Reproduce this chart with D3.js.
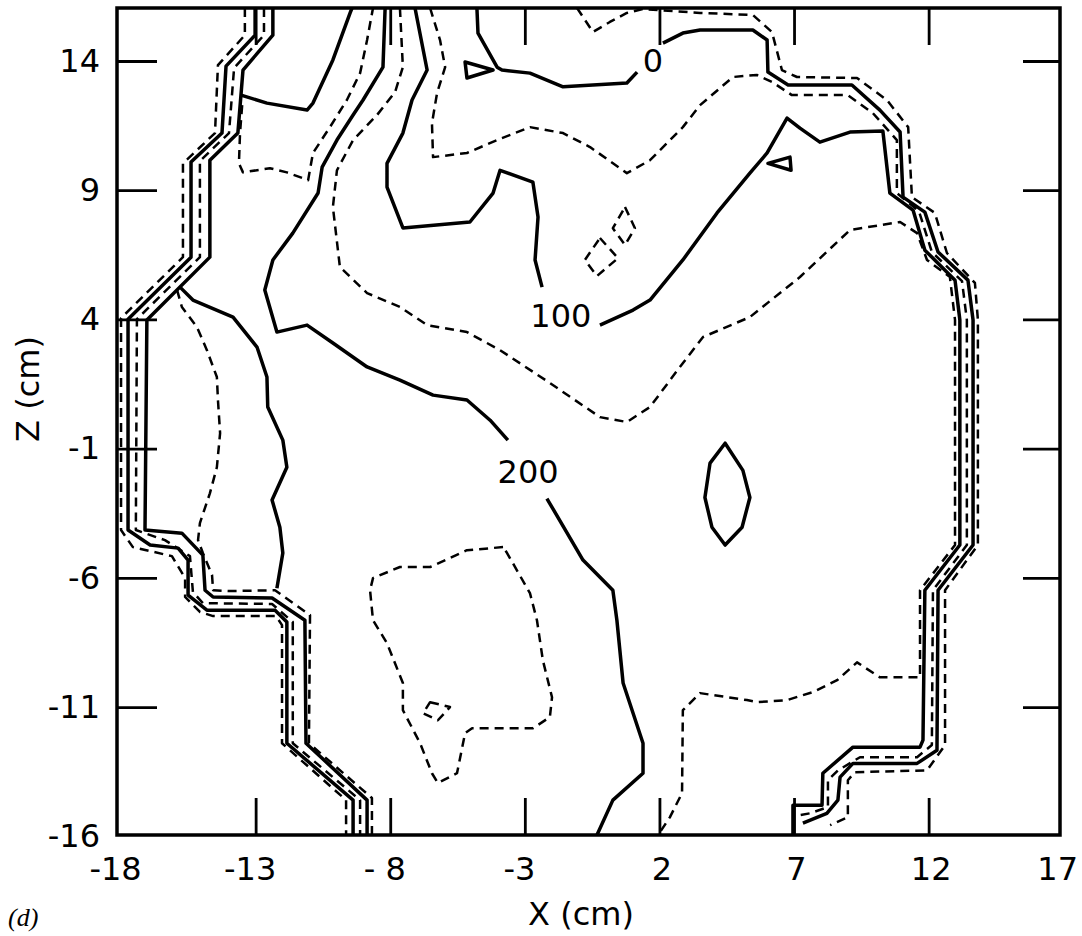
<html>
<head>
<script src="https://d3js.org/d3.v7.min.js"></script>
<style>
  body { margin: 0; background: #fff; }
  text { font-family: "DejaVu Sans", sans-serif; fill: #000; }
</style>
</head>
<body>
<div id="chart"></div>
<script>
//////////////////////////////// AXIS DATA ////////////////////////////////
const xTicks = [-18, -13, -8, -3, 2, 7, 12, 17];
const xTickLabels = ["-18", "-13", "- 8", "-3", "2", "7", "12", "17"];
const zTicks = [14, 9, 4, -1, -6, -11, -16];
const zTickLabels = ["14", "9", "4", "-1", "-6", "-11", "-16"];

//////////////////////////////// CONTOURS (x cm, z cm) ////////////////////////////////
// left field-edge band, inner -> outer
const bandA = [[-12.36,16.05],[-12.36,15.00],[-13.47,13.65],[-13.66,11.21],[-14.70,10.16],[-14.70,6.41],[-17.04,3.98],[-17.11,-4.15],[-15.74,-4.27],[-14.96,-5.12],[-14.88,-6.48],[-14.58,-6.74],[-12.39,-6.78],[-11.17,-7.64],[-11.13,-12.40],[-8.86,-14.60],[-8.86,-15.95]];
const bandB = [[-12.69,16.05],[-12.69,15.00],[-13.80,13.73],[-13.99,11.21],[-15.07,10.13],[-15.07,6.41],[-17.41,4.01],[-17.45,-4.15],[-16.37,-4.54],[-15.44,-5.16],[-15.33,-6.55],[-14.96,-6.98],[-12.39,-7.01],[-11.62,-7.71],[-11.62,-12.40],[-9.12,-14.60],[-9.12,-15.95]];
const bandC = [[-13.02,16.05],[-13.02,15.00],[-14.10,13.80],[-14.25,11.21],[-15.40,10.09],[-15.40,6.41],[-17.74,4.01],[-17.74,-4.15],[-16.92,-4.73],[-15.88,-4.85],[-15.51,-5.31],[-15.51,-6.67],[-14.81,-7.25],[-12.28,-7.25],[-11.84,-7.71],[-11.84,-12.40],[-9.38,-14.60],[-9.38,-15.95]];
const bandD = [[-13.40,16.05],[-13.40,15.00],[-14.40,13.84],[-14.51,11.21],[-15.70,10.04],[-15.70,6.41],[-18.00,4.05],[-18.00,-4.15],[-17.56,-4.81],[-16.11,-5.16],[-15.62,-6.01],[-15.62,-6.74],[-15.07,-7.32],[-14.58,-7.48],[-12.24,-7.48],[-12.02,-7.83],[-12.02,-12.40],[-9.64,-14.60],[-9.64,-15.95]];

// left interior lines
const left150 = [[-15.92,5.14],[-15.74,4.48],[-15.18,3.70],[-14.81,2.81],[-14.44,1.77],[-14.40,0.88],[-14.32,-0.40],[-14.44,-1.72],[-14.70,-2.73],[-15.07,-3.88],[-15.14,-4.54],[-14.96,-5.04],[-14.62,-5.89],[-14.58,-6.48],[-13.95,-6.51],[-12.28,-6.48],[-10.98,-7.44],[-11.02,-12.40],[-8.68,-14.52],[-8.68,-15.95]];
const left200 = [[-15.81,5.25],[-15.33,4.75],[-13.84,4.09],[-12.95,2.93],[-12.58,1.77],[-12.55,0.61],[-11.99,-0.67],[-11.84,-1.72],[-12.39,-2.99],[-12.10,-4.04],[-11.99,-5.04],[-12.21,-6.40]];
const top100 = [[-13.54,12.68],[-12.58,12.37],[-11.09,12.10],[-10.87,12.37],[-10.13,14.04],[-9.49,15.86],[-9.42,16.05]];
const top150 = [[-13.50,12.29],[-13.58,11.21],[-13.62,10.04],[-13.47,9.69],[-12.47,9.85],[-11.84,9.69],[-11.05,9.39],[-10.87,10.44],[-10.24,11.44],[-9.61,12.49],[-9.12,13.53],[-8.86,14.81],[-8.64,16.05]];

// labelled 200 line (split at its label)
const ridge200a = [[-8.19,16.05],[-8.27,13.76],[-9.01,12.49],[-9.38,11.91],[-9.98,10.94],[-10.53,9.89],[-10.68,8.89],[-11.62,7.34],[-12.36,6.30],[-12.66,5.14],[-12.21,3.51],[-11.09,3.78],[-10.13,3.09],[-8.86,2.16],[-7.64,1.65],[-6.41,1.07],[-5.15,0.88],[-4.29,0.10],[-3.63,-0.67]];
const ridge200b = [[-2.18,-2.93],[-0.84,-5.31],[0.27,-6.48],[0.42,-7.64],[0.65,-10.07],[1.39,-12.40],[1.39,-13.56],[0.27,-14.60],[-0.32,-15.95]];

// 150 line that wraps the right field edge
const wrap150 = [[-7.64,16.05],[-7.53,13.76],[-7.82,12.80],[-8.49,11.91],[-9.38,10.94],[-9.98,9.77],[-10.13,8.35],[-9.87,6.03],[-8.86,5.02],[-7.64,4.48],[-6.63,3.78],[-5.15,3.51],[-3.92,2.81],[-2.07,1.54],[-0.21,0.22],[0.79,0.03],[1.65,0.61],[2.76,2.16],[3.62,3.32],[5.36,4.09],[7.22,5.64],[9.08,7.46],[10.94,7.77],[11.57,7.34],[11.94,6.30],[12.79,5.64],[12.98,3.98],[12.98,-4.73],[11.68,-6.48],[11.68,-9.85],[10.19,-9.85],[9.34,-9.27],[8.60,-9.96],[7.70,-10.42],[6.74,-10.73],[5.62,-10.81],[5.25,-10.73],[3.51,-10.46],[2.87,-11.12],[2.84,-14.33],[2.39,-15.26],[1.95,-15.95]];

// labelled 100 line (split at its label), then right band
const edge100a = [[-7.08,16.05],[-6.63,13.65],[-7.19,12.49],[-7.53,11.21],[-8.12,10.04],[-8.12,9.12],[-7.53,7.54],[-5.04,7.77],[-4.18,8.89],[-3.92,9.77],[-2.70,9.31],[-2.51,7.96],[-2.62,6.30],[-2.36,5.25]];
const edge100b = [[-0.21,3.78],[1.02,4.36],[1.65,4.75],[2.87,6.30],[4.14,8.12],[5.36,9.66],[6.00,10.44],[6.74,11.79],[7.22,11.40],[7.96,10.86],[9.08,11.25],[10.30,11.29],[10.56,8.89],[11.42,8.23],[11.86,6.68],[12.98,5.52],[13.16,3.98],[13.16,-4.73],[11.86,-6.48],[11.79,-12.28],[11.68,-12.55],[9.19,-12.55],[8.07,-13.56],[8.04,-14.80],[6.96,-14.80],[6.96,-15.95]];
const edge50 = [[-6.52,16.05],[-6.15,14.81],[-5.96,13.76],[-6.26,12.76],[-6.45,11.59],[-6.41,10.28],[-5.15,10.44],[-4.03,10.94],[-2.81,11.44],[-1.58,11.21],[-0.58,10.67],[0.79,9.66],[1.65,10.16],[2.87,11.44],[3.51,12.29],[4.73,13.38],[5.62,13.46],[6.18,13.19],[6.92,12.68],[9.00,12.68],[9.93,11.98],[10.82,10.94],[10.82,8.89],[11.64,8.19],[12.12,6.61],[13.24,5.48],[13.42,3.98],[13.42,-4.73],[12.16,-6.48],[12.12,-12.47],[11.57,-12.94],[9.45,-12.94],[8.63,-13.45],[8.26,-13.83],[8.26,-14.87],[7.59,-15.11],[7.22,-15.18]];
const edge0a = [[-4.78,16.05],[-4.74,15.08],[-4.03,13.76],[-3.85,13.65],[-2.81,13.53],[-1.58,13.00],[0.79,13.15],[1.17,13.57]];
const edge0b = [[2.13,14.69],[2.87,15.08],[3.51,15.20],[5.47,15.20],[6.00,14.81],[6.03,13.57],[6.78,13.07],[9.15,13.07],[10.19,12.10],[10.94,11.25],[11.05,8.73],[11.86,8.15],[12.35,6.61],[13.46,5.52],[13.65,3.98],[13.65,-4.73],[12.35,-6.48],[12.31,-12.67],[11.57,-13.18],[9.19,-13.18],[8.71,-13.71],[8.63,-14.60],[8.22,-15.11],[7.33,-15.49]];
const edgeOuter = [[-1.06,16.05],[-0.47,15.12],[0.16,15.51],[0.79,15.86],[1.39,16.01],[3.51,15.86],[5.47,15.78],[6.18,15.12],[6.55,13.65],[7.11,13.38],[9.34,13.34],[10.45,12.49],[11.24,11.44],[11.38,8.73],[12.23,8.12],[12.68,6.57],[13.72,5.41],[13.83,3.98],[13.83,-4.73],[12.61,-6.48],[12.61,-12.47],[11.94,-13.45],[9.26,-13.52],[9.00,-13.83],[9.00,-15.26],[8.34,-15.57]];

// small closed islands
const island0 = [[-5.22,13.96],[-5.15,13.34],[-4.18,13.65]];
const island100 = [[6.03,10.04],[6.85,10.28],[6.89,9.77]];
const lens200 = [[4.44,-0.79],[5.10,-1.84],[5.36,-2.89],[5.07,-4.04],[4.44,-4.73],[3.95,-4.04],[3.69,-2.89],[3.88,-1.56]];
const islandA = [[0.72,8.35],[1.09,7.53],[0.72,6.88],[0.27,7.53]];
const islandB = [[-0.21,7.15],[0.46,6.37],[-0.32,5.68],[-0.77,6.30]];
const pocket250 = [[-3.81,-4.81],[-5.15,-4.93],[-6.52,-5.58],[-7.64,-5.58],[-8.64,-6.01],[-8.75,-6.48],[-8.64,-7.64],[-8.12,-8.53],[-7.53,-10.07],[-7.53,-11.12],[-6.89,-12.40],[-6.45,-13.56],[-6.23,-13.94],[-5.52,-13.56],[-5.22,-12.01],[-4.96,-11.82],[-2.70,-11.82],[-2.07,-11.39],[-1.99,-10.62],[-2.33,-9.19],[-2.55,-7.64],[-2.81,-6.59],[-3.66,-5.04]];
const pocketSmall = [[-6.52,-10.81],[-5.78,-11.00],[-6.23,-11.51],[-6.78,-11.24]];

// level of each line (solid = multiple of 100, dashed = in between)
const contours = [
  { level: 100, closed: false, pts: bandA },
  { level: 50, closed: false, pts: bandB },
  { level: 0, closed: false, pts: bandC },
  { level: -50, closed: false, pts: bandD },
  { level: 150, closed: false, pts: left150 },
  { level: 200, closed: false, pts: left200 },
  { level: 100, closed: false, pts: top100 },
  { level: 150, closed: false, pts: top150 },
  { level: 200, closed: false, pts: ridge200a },
  { level: 200, closed: false, pts: ridge200b },
  { level: 150, closed: false, pts: wrap150 },
  { level: 100, closed: false, pts: edge100a },
  { level: 100, closed: false, pts: edge100b },
  { level: 50, closed: false, pts: edge50 },
  { level: 0, closed: false, pts: edge0a },
  { level: 0, closed: false, pts: edge0b },
  { level: -50, closed: false, pts: edgeOuter },
  { level: 0, closed: true, pts: island0 },
  { level: 100, closed: true, pts: island100 },
  { level: 200, closed: true, pts: lens200 },
  { level: 50, closed: true, pts: islandA },
  { level: 50, closed: true, pts: islandB },
  { level: 250, closed: true, pts: pocket250 },
  { level: 250, closed: true, pts: pocketSmall }
];

// contour labels
const labelText = ["0", "100", "200"];
const labelX = [1.76, -1.66, -2.88];
const labelZ = [13.57, 3.70, -2.33];

//////////////////////////////// SVG ////////////////////////////////
const width = 1082;
const height = 936;
const margin = { top: 8, right: 22, bottom: 101, left: 117 };

const svg = d3.select("#chart").append("svg")
    .attr("width", width)
    .attr("height", height)
    .style("background", "#fff");

const x = d3.scaleLinear().domain([-18.15, 16.88]).range([margin.left, width - margin.right]);
const y = d3.scaleLinear().domain([-15.95, 16.05]).range([height - margin.bottom, margin.top]);

svg.append("clipPath").attr("id", "plot")
  .append("rect")
    .attr("x", x.range()[0]).attr("y", y.range()[1])
    .attr("width", x.range()[1] - x.range()[0])
    .attr("height", y.range()[0] - y.range()[1]);

//draw the contour lines
const line = d3.line().x(d => x(d[0])).y(d => y(d[1]));
const lineClosed = d3.line().x(d => x(d[0])).y(d => y(d[1])).curve(d3.curveLinearClosed);

svg.append("g").attr("clip-path", "url(#plot)")
  .selectAll("path.contour").data(contours)
  .join("path")
    .attr("class", "contour")
    .attr("d", d => d.closed ? lineClosed(d.pts) : line(d.pts))
    .attr("fill", "none")
    .attr("stroke", "#000")
    .attr("stroke-linejoin", "round")
    .attr("stroke-width", d => d.level % 100 === 0 ? 3.5 : 2.5)
    .attr("stroke-dasharray", d => d.level % 100 === 0 ? null : "9,6");

//contour value labels
svg.selectAll("text.clabel").data(labelText)
  .join("text")
    .attr("class", "clabel")
    .attr("x", (d, i) => x(labelX[i]))
    .attr("y", (d, i) => y(labelZ[i]))
    .attr("text-anchor", "middle")
    .style("font-size", "32px")
    .text(d => d);

//frame
svg.append("rect")
    .attr("x", x.range()[0]).attr("y", y.range()[1])
    .attr("width", x.range()[1] - x.range()[0])
    .attr("height", y.range()[0] - y.range()[1])
    .attr("fill", "none")
    .attr("stroke", "#000")
    .attr("stroke-width", 3.5);

//inward tick marks on all four sides
const xInner = xTicks.filter(v => v > -18 && v < 17);
const zInner = zTicks.filter(v => v > -16);
const tickStyle = g => {
    g.select(".domain").remove();
    g.selectAll(".tick line").attr("stroke", "#000").attr("stroke-width", 2.8);
};
svg.append("g").attr("transform", `translate(0,${y.range()[0]})`)
    .call(d3.axisBottom(x).tickValues(xInner).tickSize(-37).tickFormat("")).call(tickStyle);
svg.append("g").attr("transform", `translate(0,${y.range()[1]})`)
    .call(d3.axisTop(x).tickValues(xInner).tickSize(-37).tickFormat("")).call(tickStyle);
svg.append("g").attr("transform", `translate(${x.range()[0]},0)`)
    .call(d3.axisLeft(y).tickValues(zInner).tickSize(-40).tickFormat("")).call(tickStyle);
svg.append("g").attr("transform", `translate(${x.range()[1]},0)`)
    .call(d3.axisRight(y).tickValues(zInner).tickSize(-37).tickFormat("")).call(tickStyle);

//tick labels
const xLab = svg.append("g").attr("transform", `translate(0,${y.range()[0]})`)
    .call(d3.axisBottom(x).tickValues(xTicks).tickSize(0).tickPadding(22).tickFormat((d, i) => xTickLabels[i]));
xLab.select(".domain").remove();
xLab.attr("font-size", 32).attr("font-family", "DejaVu Sans");
// digits sit over the tick, the minus hangs to the left; last label kept inside the page
xLab.selectAll(".tick text")
    .attr("dx", d => d < 0 ? -6 : (d === xTicks[xTicks.length - 1] ? -6 : 2))
    .attr("fill", "#000");

const zLab = svg.append("g").attr("transform", `translate(${x.range()[0]},0)`)
    .call(d3.axisLeft(y).tickValues(zTicks).tickSize(0).tickPadding(17).tickFormat((d, i) => zTickLabels[i]));
zLab.select(".domain").remove();
zLab.attr("font-size", 32).attr("font-family", "DejaVu Sans");
zLab.selectAll(".tick text").attr("fill", "#000");

//axis titles
svg.append("text")
    .attr("x", 581).attr("y", 925)
    .attr("text-anchor", "middle")
    .style("font-size", "32px")
    .text("X (cm)");
svg.append("text")
    .attr("transform", "translate(39,389) rotate(-90)")
    .attr("text-anchor", "middle")
    .style("font-size", "32px")
    .text("Z (cm)");

//panel letter
svg.append("text")
    .attr("x", 8).attr("y", 926)
    .style("font-family", "'Liberation Serif', serif")
    .style("font-style", "italic")
    .style("font-size", "26px")
    .text("(d)");
</script>
</body>
</html>
